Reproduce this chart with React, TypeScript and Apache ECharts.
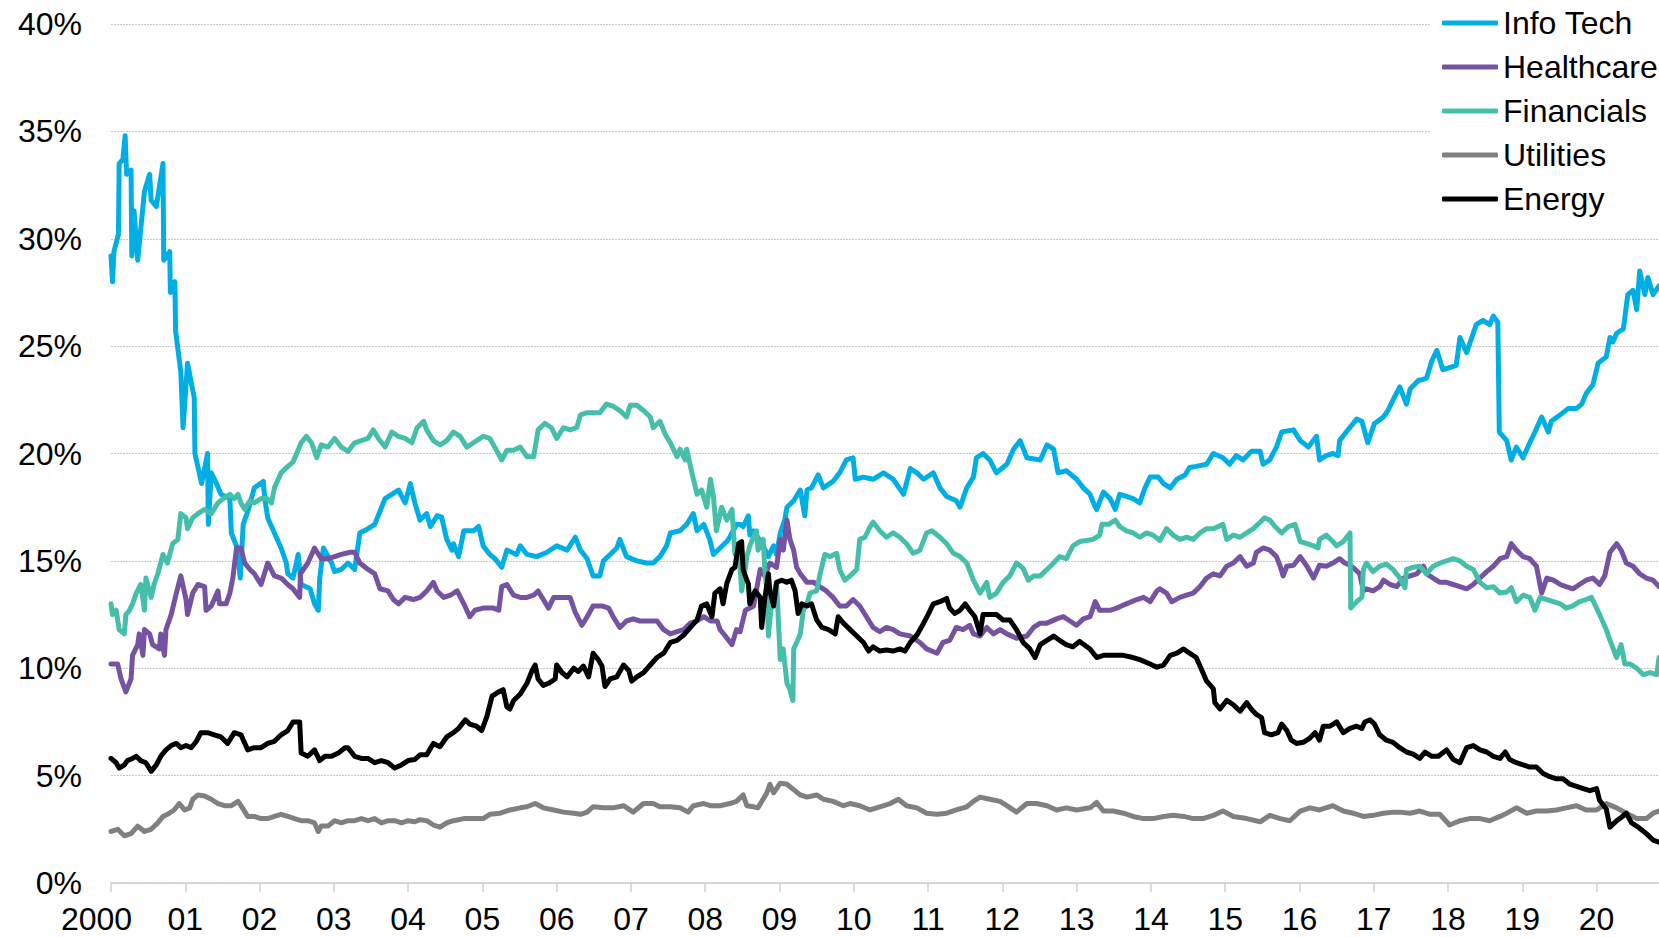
import React, { useEffect, useRef } from "react";
import * as echarts from "echarts";

// t = years since 2000-01-01, value in %
const infoTech: [number, number][] = [
  [0.00,29.2],[0.02,28.0],[0.04,29.4],[0.10,30.2],[0.11,33.5],[0.16,33.7],[0.19,34.8],[0.21,33.0],[0.27,33.2],[0.28,29.2],[0.31,31.3],[0.36,29.0],[0.45,32.2],[0.52,33.0],[0.54,31.8],[0.61,31.5],[0.70,33.5],[0.71,29.0],[0.79,29.4],[0.80,27.5],[0.86,28.0],[0.87,25.7],[0.94,23.8],[0.97,21.2],[1.03,24.2],[1.12,22.6],[1.13,20.0],[1.22,18.6],[1.30,20.0],[1.31,16.7],[1.35,19.1],[1.42,18.6],[1.48,18.1],[1.60,17.9],[1.62,16.3],[1.70,15.6],[1.74,14.2],[1.78,16.7],[1.85,17.4],[1.93,18.4],[2.05,18.7],[2.07,17.9],[2.11,17.0],[2.20,16.3],[2.29,15.6],[2.36,14.9],[2.38,14.4],[2.45,14.2],[2.52,15.3],[2.56,13.9],[2.68,13.7],[2.74,13.0],[2.79,12.7],[2.81,14.2],[2.86,15.6],[2.97,14.9],[3.01,14.5],[3.10,14.6],[3.19,14.9],[3.28,14.6],[3.35,16.3],[3.46,16.5],[3.55,16.7],[3.62,17.3],[3.69,17.9],[3.78,18.1],[3.87,18.3],[3.96,17.7],[4.03,18.6],[4.09,17.7],[4.16,16.9],[4.25,17.2],[4.30,16.6],[4.39,17.1],[4.45,17.05],[4.52,16.0],[4.59,15.5],[4.61,15.8],[4.68,15.2],[4.75,16.4],[4.88,16.4],[4.95,16.6],[5.01,15.7],[5.10,15.3],[5.17,15.1],[5.26,14.7],[5.33,15.5],[5.46,15.3],[5.51,15.7],[5.60,15.3],[5.73,15.2],[5.87,15.4],[6.00,15.7],[6.14,15.5],[6.25,16.1],[6.32,15.5],[6.41,15.1],[6.49,14.3],[6.58,14.3],[6.63,15.0],[6.72,15.3],[6.81,15.6],[6.85,16.0],[6.94,15.2],[7.08,15.0],[7.21,14.9],[7.30,14.9],[7.39,15.2],[7.48,15.7],[7.53,16.3],[7.66,16.4],[7.75,16.7],[7.84,17.2],[7.89,16.4],[7.98,16.7],[8.06,16.0],[8.11,15.3],[8.20,15.6],[8.29,15.9],[8.33,16.1],[8.42,16.7],[8.47,16.7],[8.51,16.6],[8.58,17.1],[8.60,16.2],[8.65,16.4],[8.78,15.7],[8.85,15.2],[8.92,15.7],[8.96,15.3],[9.01,16.3],[9.07,16.9],[9.10,17.5],[9.19,17.8],[9.28,18.3],[9.34,17.1],[9.37,18.3],[9.43,18.4],[9.52,19.0],[9.59,18.4],[9.72,18.7],[9.81,19.1],[9.90,19.7],[9.99,19.8],[10.02,18.8],[10.13,18.9],[10.26,18.8],[10.40,19.1],[10.53,18.8],[10.67,18.1],[10.76,19.3],[10.85,19.1],[10.94,18.8],[11.07,19.1],[11.16,18.4],[11.25,18.0],[11.38,17.8],[11.43,17.5],[11.52,18.4],[11.61,18.9],[11.65,19.8],[11.74,20.0],[11.83,19.7],[11.92,19.1],[12.06,19.5],[12.15,20.2],[12.24,20.6],[12.33,19.8],[12.51,19.7],[12.60,20.4],[12.69,20.2],[12.75,19.1],[12.86,19.2],[13.00,18.8],[13.09,18.4],[13.18,18.1],[13.25,17.5],[13.27,17.4],[13.36,18.2],[13.45,17.9],[13.52,17.4],[13.58,18.1],[13.67,18.0],[13.76,17.9],[13.85,17.7],[13.92,18.4],[13.99,18.9],[14.10,18.9],[14.17,18.6],[14.26,18.4],[14.35,18.8],[14.46,19.0],[14.52,19.35],[14.61,19.4],[14.75,19.5],[14.84,20.0],[14.97,19.8],[15.06,19.5],[15.15,19.9],[15.24,19.7],[15.35,20.1],[15.47,20.1],[15.51,19.5],[15.60,19.7],[15.69,20.3],[15.76,21.0],[15.92,21.1],[16.01,20.6],[16.12,20.3],[16.23,20.8],[16.27,19.7],[16.36,19.9],[16.45,20.0],[16.52,19.9],[16.54,20.6],[16.63,21.0],[16.77,21.6],[16.84,21.5],[16.92,20.5],[17.01,21.4],[17.13,21.7],[17.19,22.0],[17.26,22.5],[17.35,23.1],[17.44,22.3],[17.49,23.0],[17.60,23.4],[17.71,23.5],[17.78,24.3],[17.85,24.8],[17.93,23.9],[18.02,24.0],[18.11,24.1],[18.16,25.4],[18.25,24.7],[18.29,25.1],[18.38,26.0],[18.47,26.2],[18.56,26.0],[18.61,26.4],[18.67,26.1],[18.69,21.0],[18.79,20.6],[18.85,19.7],[18.92,20.3],[19.01,19.8],[19.10,20.5],[19.17,21.0],[19.26,21.7],[19.35,21.0],[19.39,21.5],[19.51,21.8],[19.62,22.1],[19.73,22.1],[19.80,22.3],[19.86,22.8],[19.95,23.2],[20.02,24.2],[20.13,24.5],[20.18,25.4],[20.22,25.2],[20.27,25.6],[20.36,25.8],[20.42,27.4],[20.49,27.6],[20.54,26.7],[20.58,28.5],[20.65,27.4],[20.69,28.2],[20.76,27.4],[20.84,27.8]
];

const healthcare: [number, number][] = [
  [0.00,10.2],[0.09,10.2],[0.135,9.5],[0.20,8.9],[0.27,9.5],[0.29,10.6],[0.36,11.1],[0.38,11.6],[0.43,10.6],[0.45,11.8],[0.52,11.6],[0.56,11.1],[0.65,10.9],[0.67,11.6],[0.72,10.6],[0.74,11.8],[0.81,12.5],[0.88,13.5],[0.94,14.3],[1.01,13.2],[1.03,12.5],[1.10,13.5],[1.17,13.9],[1.26,13.8],[1.28,12.7],[1.35,12.9],[1.44,13.6],[1.46,13.0],[1.55,13.0],[1.60,13.5],[1.64,14.2],[1.69,15.6],[1.75,15.6],[1.80,14.9],[1.87,14.6],[1.93,14.4],[2.02,13.9],[2.11,14.9],[2.20,14.3],[2.29,14.2],[2.38,13.9],[2.45,13.7],[2.54,13.3],[2.55,14.4],[2.65,14.9],[2.74,15.6],[2.83,15.1],[2.92,15.1],[3.01,15.2],[3.10,15.3],[3.22,15.4],[3.28,15.4],[3.35,14.9],[3.46,14.6],[3.55,14.4],[3.62,13.7],[3.73,13.6],[3.80,13.2],[3.87,13.0],[3.96,13.3],[4.07,13.2],[4.16,13.3],[4.25,13.6],[4.34,14.0],[4.39,13.6],[4.48,13.3],[4.57,13.4],[4.66,13.6],[4.75,13.0],[4.83,12.4],[4.90,12.7],[5.01,12.8],[5.15,12.8],[5.22,12.7],[5.26,13.8],[5.33,13.9],[5.42,13.4],[5.51,13.3],[5.60,13.3],[5.69,13.4],[5.75,13.6],[5.82,13.2],[5.89,12.8],[5.96,13.3],[6.05,13.3],[6.18,13.3],[6.25,12.6],[6.34,12.0],[6.41,12.4],[6.49,12.9],[6.61,12.9],[6.70,12.8],[6.76,12.4],[6.85,11.9],[6.94,12.2],[7.03,12.3],[7.12,12.2],[7.26,12.2],[7.35,12.2],[7.44,11.8],[7.53,11.6],[7.62,11.7],[7.71,11.8],[7.80,12.1],[7.89,12.2],[7.98,12.4],[8.07,12.2],[8.16,12.2],[8.20,11.8],[8.27,11.5],[8.36,11.1],[8.42,11.8],[8.47,11.7],[8.54,12.7],[8.60,12.8],[8.65,12.9],[8.74,14.6],[8.80,14.3],[8.87,14.9],[8.96,14.7],[9.01,16.0],[9.05,15.5],[9.10,16.9],[9.14,16.0],[9.19,15.5],[9.23,14.7],[9.28,14.4],[9.37,14.0],[9.46,14.0],[9.54,13.8],[9.63,13.6],[9.72,13.3],[9.81,12.9],[9.90,12.9],[9.99,13.2],[10.08,12.9],[10.17,12.4],[10.26,11.9],[10.35,11.7],[10.44,11.9],[10.53,11.8],[10.62,11.6],[10.76,11.5],[10.89,11.2],[10.98,10.9],[11.12,10.7],[11.20,11.2],[11.29,11.3],[11.38,11.9],[11.47,11.8],[11.56,12.0],[11.61,11.6],[11.70,11.5],[11.79,11.9],[11.88,11.6],[11.97,11.8],[12.06,11.6],[12.19,11.4],[12.33,11.5],[12.42,11.9],[12.51,12.1],[12.60,12.1],[12.73,12.3],[12.82,12.4],[12.91,12.2],[13.00,12.0],[13.09,12.3],[13.18,12.4],[13.25,13.1],[13.31,12.7],[13.45,12.7],[13.54,12.8],[13.67,13.0],[13.81,13.2],[13.90,13.3],[13.99,13.1],[14.08,13.6],[14.12,13.7],[14.21,13.5],[14.28,13.1],[14.39,13.3],[14.48,13.4],[14.57,13.5],[14.66,13.8],[14.75,14.2],[14.84,14.4],[14.93,14.3],[15.02,14.75],[15.11,14.9],[15.20,15.2],[15.29,14.75],[15.38,14.9],[15.42,15.4],[15.51,15.6],[15.60,15.5],[15.69,15.2],[15.74,14.75],[15.78,14.3],[15.83,14.75],[15.92,14.8],[16.01,15.2],[16.10,14.75],[16.19,14.2],[16.27,14.8],[16.36,14.75],[16.45,14.9],[16.54,15.1],[16.61,14.9],[16.68,14.8],[16.75,14.6],[16.81,14.4],[16.86,13.6],[16.90,13.7],[16.99,13.6],[17.08,13.8],[17.13,14.1],[17.22,13.9],[17.31,13.8],[17.40,14.2],[17.49,14.3],[17.58,14.4],[17.67,14.75],[17.71,14.4],[17.80,14.2],[17.89,14.0],[17.98,14.0],[18.07,13.9],[18.16,13.8],[18.25,13.7],[18.34,13.9],[18.43,14.2],[18.52,14.5],[18.61,14.75],[18.70,15.1],[18.79,15.2],[18.85,15.8],[18.92,15.5],[19.01,15.2],[19.10,15.1],[19.19,14.75],[19.26,13.5],[19.33,14.2],[19.42,14.1],[19.51,13.9],[19.59,13.8],[19.68,13.7],[19.77,13.9],[19.86,14.1],[19.95,14.2],[20.04,13.9],[20.11,14.3],[20.18,15.4],[20.27,15.8],[20.33,15.5],[20.40,14.9],[20.49,14.75],[20.58,14.4],[20.67,14.2],[20.76,14.1],[20.84,13.8]
];

const financials: [number, number][] = [
  [0.00,13.0],[0.02,12.5],[0.07,12.7],[0.11,11.8],[0.18,11.6],[0.20,12.5],[0.25,12.7],[0.29,13.0],[0.34,13.5],[0.40,13.9],[0.45,12.7],[0.47,14.2],[0.54,13.3],[0.58,13.9],[0.63,14.4],[0.70,15.3],[0.76,14.9],[0.83,15.8],[0.90,16.0],[0.94,17.2],[1.01,17.0],[1.03,16.5],[1.10,17.0],[1.17,17.2],[1.26,17.4],[1.35,17.2],[1.44,17.7],[1.51,17.9],[1.60,18.1],[1.66,17.9],[1.71,18.1],[1.75,17.7],[1.80,17.4],[1.87,17.8],[1.93,17.7],[2.02,17.9],[2.10,17.9],[2.16,17.7],[2.20,18.4],[2.29,19.1],[2.38,19.4],[2.45,19.6],[2.50,20.0],[2.56,20.5],[2.63,20.8],[2.70,20.5],[2.77,19.8],[2.83,20.4],[2.92,20.3],[3.01,20.7],[3.10,20.3],[3.19,20.1],[3.28,20.5],[3.37,20.6],[3.46,20.7],[3.53,21.1],[3.60,20.7],[3.69,20.3],[3.78,21.0],[3.87,20.8],[3.96,20.7],[4.05,20.5],[4.12,21.2],[4.21,21.5],[4.25,21.1],[4.34,20.6],[4.43,20.4],[4.52,20.6],[4.61,21.0],[4.70,20.8],[4.79,20.3],[4.88,20.5],[5.01,20.8],[5.10,20.7],[5.19,20.15],[5.26,19.7],[5.33,20.15],[5.42,20.15],[5.51,20.3],[5.60,19.85],[5.69,19.85],[5.75,21.1],[5.84,21.4],[5.93,21.2],[6.00,20.7],[6.09,21.2],[6.18,21.1],[6.27,21.2],[6.32,21.8],[6.41,21.9],[6.49,21.9],[6.58,21.9],[6.67,22.3],[6.76,22.2],[6.85,22.0],[6.94,21.7],[6.99,22.25],[7.08,22.25],[7.17,22.0],[7.26,21.7],[7.30,21.2],[7.39,21.5],[7.46,20.9],[7.53,20.5],[7.62,19.85],[7.66,20.2],[7.73,19.7],[7.75,20.2],[7.82,19.1],[7.89,18.1],[7.95,18.3],[8.02,17.5],[8.07,18.8],[8.11,18.0],[8.15,16.4],[8.22,17.5],[8.29,16.9],[8.36,17.4],[8.40,15.3],[8.45,15.8],[8.49,13.6],[8.54,14.7],[8.56,15.2],[8.60,15.7],[8.65,16.1],[8.69,16.4],[8.71,15.5],[8.78,16.0],[8.80,14.7],[8.83,13.6],[8.85,11.5],[8.89,13.0],[8.96,14.0],[9.01,10.4],[9.05,10.9],[9.10,9.3],[9.14,9.0],[9.18,8.5],[9.19,10.9],[9.23,11.2],[9.28,11.6],[9.32,12.7],[9.37,13.0],[9.41,13.5],[9.50,13.6],[9.54,14.3],[9.61,15.3],[9.68,15.2],[9.77,15.35],[9.81,14.6],[9.88,14.1],[9.95,14.3],[10.04,14.6],[10.08,16.0],[10.15,16.1],[10.22,16.6],[10.26,16.8],[10.35,16.4],[10.44,16.1],[10.53,16.3],[10.62,16.1],[10.71,15.8],[10.80,15.35],[10.89,15.5],[10.98,16.3],[11.05,16.4],[11.16,16.1],[11.25,15.8],[11.34,15.35],[11.43,15.2],[11.52,14.9],[11.61,14.1],[11.70,13.5],[11.79,14.0],[11.83,13.3],[11.92,13.5],[12.01,14.0],[12.10,14.3],[12.19,14.9],[12.28,14.65],[12.35,14.1],[12.42,14.3],[12.51,14.3],[12.60,14.6],[12.69,14.9],[12.77,15.2],[12.86,15.1],[12.95,15.7],[13.04,15.9],[13.13,15.95],[13.22,16.0],[13.31,16.2],[13.34,16.7],[13.43,16.7],[13.52,16.9],[13.58,16.6],[13.67,16.4],[13.76,16.3],[13.85,16.1],[13.94,16.3],[14.03,16.2],[14.12,15.95],[14.21,16.5],[14.30,16.2],[14.39,16.0],[14.48,16.1],[14.57,16.0],[14.66,16.3],[14.75,16.5],[14.84,16.5],[14.97,16.7],[15.02,16.0],[15.11,16.2],[15.20,16.1],[15.29,16.3],[15.38,16.5],[15.47,16.8],[15.53,17.0],[15.60,16.9],[15.67,16.6],[15.76,16.3],[15.85,16.6],[15.94,16.7],[16.01,15.9],[16.10,15.8],[16.19,15.7],[16.25,15.6],[16.27,16.0],[16.36,16.2],[16.45,15.9],[16.50,15.7],[16.59,15.9],[16.68,16.3],[16.69,12.8],[16.77,13.1],[16.84,13.3],[16.86,14.6],[16.90,14.9],[16.99,14.5],[17.08,14.75],[17.17,14.85],[17.26,14.6],[17.35,14.2],[17.42,13.75],[17.44,14.6],[17.53,14.7],[17.62,14.75],[17.71,14.4],[17.80,14.75],[17.89,14.9],[17.98,15.0],[18.07,15.1],[18.16,15.0],[18.25,14.75],[18.34,14.6],[18.43,14.0],[18.52,13.75],[18.61,13.8],[18.70,13.5],[18.79,13.55],[18.85,13.75],[18.92,13.1],[19.01,13.4],[19.10,13.3],[19.17,12.7],[19.24,13.3],[19.33,13.2],[19.42,13.1],[19.51,13.0],[19.59,12.8],[19.68,12.9],[19.77,13.1],[19.86,13.2],[19.93,13.3],[20.00,12.8],[20.04,12.5],[20.13,11.8],[20.18,11.3],[20.27,10.5],[20.33,11.1],[20.38,10.2],[20.45,10.2],[20.54,10.0],[20.63,9.7],[20.72,9.8],[20.81,9.7],[20.84,10.5]
];

const utilities: [number, number][] = [
  [0.00,2.4],[0.09,2.5],[0.18,2.2],[0.27,2.3],[0.36,2.65],[0.45,2.4],[0.54,2.5],[0.63,2.8],[0.70,3.1],[0.76,3.2],[0.85,3.4],[0.92,3.7],[0.99,3.4],[1.06,3.5],[1.10,3.9],[1.17,4.1],[1.26,4.05],[1.35,3.9],[1.44,3.7],[1.53,3.6],[1.62,3.6],[1.71,3.8],[1.75,3.6],[1.84,3.1],[1.93,3.1],[2.02,3.0],[2.11,3.0],[2.20,3.1],[2.29,3.2],[2.38,3.1],[2.47,3.0],[2.56,2.9],[2.65,2.9],[2.74,2.8],[2.79,2.4],[2.83,2.65],[2.92,2.65],[3.01,2.9],[3.10,2.8],[3.19,2.9],[3.28,2.9],[3.37,3.0],[3.46,2.9],[3.55,3.0],[3.64,2.8],[3.73,2.9],[3.82,2.9],[3.91,2.8],[4.00,2.9],[4.09,2.85],[4.16,2.95],[4.25,2.9],[4.34,2.7],[4.43,2.6],[4.52,2.8],[4.61,2.9],[4.75,3.0],[4.88,3.0],[5.01,3.0],[5.10,3.2],[5.24,3.25],[5.37,3.4],[5.51,3.5],[5.60,3.55],[5.71,3.7],[5.82,3.5],[5.96,3.4],[6.09,3.3],[6.23,3.25],[6.32,3.2],[6.41,3.3],[6.49,3.55],[6.63,3.5],[6.76,3.5],[6.90,3.6],[7.03,3.3],[7.17,3.7],[7.30,3.7],[7.39,3.55],[7.53,3.55],[7.66,3.5],[7.77,3.3],[7.84,3.6],[7.98,3.7],[8.07,3.6],[8.20,3.6],[8.33,3.7],[8.42,3.8],[8.51,4.1],[8.56,3.6],[8.65,3.55],[8.71,3.5],[8.76,3.8],[8.83,4.2],[8.87,4.6],[8.92,4.2],[9.01,4.65],[9.10,4.6],[9.19,4.35],[9.28,4.1],[9.37,4.0],[9.50,4.1],[9.59,3.9],[9.72,3.8],[9.86,3.6],[9.95,3.7],[10.08,3.6],[10.22,3.4],[10.35,3.55],[10.49,3.7],[10.60,3.9],[10.71,3.6],[10.85,3.5],[10.98,3.25],[11.12,3.2],[11.25,3.25],[11.38,3.4],[11.52,3.55],[11.61,3.8],[11.70,4.0],[11.83,3.9],[11.97,3.8],[12.06,3.6],[12.19,3.3],[12.33,3.7],[12.46,3.7],[12.60,3.6],[12.73,3.4],[12.86,3.5],[13.00,3.4],[13.18,3.5],[13.27,3.75],[13.36,3.35],[13.49,3.35],[13.63,3.25],[13.76,3.1],[13.90,3.0],[14.03,3.0],[14.17,3.1],[14.30,3.15],[14.44,3.1],[14.57,3.0],[14.70,3.0],[14.84,3.15],[14.97,3.35],[15.11,3.1],[15.29,3.0],[15.47,2.85],[15.60,3.15],[15.74,3.0],[15.87,2.9],[16.01,3.35],[16.14,3.5],[16.27,3.4],[16.45,3.6],[16.59,3.35],[16.72,3.25],[16.86,3.1],[16.99,3.15],[17.13,3.25],[17.26,3.3],[17.35,3.3],[17.49,3.25],[17.62,3.35],[17.76,3.2],[17.89,3.2],[18.02,2.7],[18.16,2.9],[18.29,3.0],[18.43,3.0],[18.56,2.9],[18.70,3.1],[18.79,3.25],[18.92,3.5],[19.06,3.25],[19.19,3.35],[19.33,3.35],[19.46,3.4],[19.59,3.5],[19.73,3.6],[19.86,3.4],[20.00,3.4],[20.13,3.7],[20.27,3.5],[20.40,3.25],[20.54,3.0],[20.67,3.0],[20.76,3.25],[20.84,3.35]
];

const energy: [number, number][] = [
  [0.00,5.8],[0.07,5.6],[0.11,5.35],[0.18,5.5],[0.22,5.7],[0.29,5.8],[0.34,5.9],[0.40,5.7],[0.47,5.6],[0.54,5.2],[0.61,5.5],[0.67,5.9],[0.74,6.2],[0.81,6.4],[0.88,6.5],[0.94,6.3],[1.01,6.4],[1.08,6.3],[1.15,6.6],[1.21,7.0],[1.30,7.0],[1.39,6.9],[1.48,6.8],[1.57,6.5],[1.66,7.0],[1.75,6.9],[1.84,6.2],[1.93,6.3],[2.02,6.3],[2.11,6.5],[2.20,6.6],[2.29,6.9],[2.38,7.1],[2.45,7.5],[2.54,7.5],[2.56,6.05],[2.65,5.9],[2.74,6.2],[2.81,5.7],[2.88,5.9],[2.97,5.9],[3.06,6.05],[3.15,6.3],[3.19,6.3],[3.28,5.9],[3.37,5.8],[3.46,5.8],[3.55,5.6],[3.64,5.7],[3.73,5.6],[3.82,5.35],[3.91,5.5],[4.00,5.7],[4.09,5.75],[4.16,5.97],[4.25,5.97],[4.34,6.5],[4.43,6.35],[4.52,6.8],[4.61,7.0],[4.68,7.2],[4.77,7.6],[4.83,7.4],[4.92,7.3],[4.99,7.1],[5.06,7.75],[5.13,8.7],[5.22,8.9],[5.28,9.0],[5.33,8.2],[5.37,8.1],[5.42,8.5],[5.51,8.8],[5.60,9.3],[5.67,9.9],[5.71,10.15],[5.75,9.5],[5.82,9.2],[5.89,9.3],[5.98,9.5],[6.00,10.15],[6.07,9.8],[6.14,9.6],[6.23,10.0],[6.29,9.85],[6.36,10.1],[6.43,9.6],[6.49,10.7],[6.56,10.4],[6.61,10.1],[6.65,9.15],[6.72,9.5],[6.81,9.6],[6.90,10.15],[6.97,9.9],[7.01,9.4],[7.08,9.6],[7.17,9.8],[7.26,10.15],[7.35,10.5],[7.44,10.7],[7.53,11.2],[7.62,11.3],[7.71,11.55],[7.80,11.9],[7.89,12.25],[7.95,12.9],[8.02,13.0],[8.09,12.4],[8.13,13.5],[8.20,13.7],[8.24,13.0],[8.29,13.95],[8.36,14.6],[8.40,14.7],[8.45,15.8],[8.49,15.9],[8.51,14.6],[8.56,14.1],[8.58,13.95],[8.60,13.0],[8.67,13.6],[8.74,13.3],[8.76,11.9],[8.80,13.2],[8.85,14.4],[8.87,13.6],[8.92,12.9],[8.96,14.0],[9.03,14.1],[9.10,14.0],[9.16,14.1],[9.21,13.6],[9.25,12.55],[9.30,13.0],[9.37,12.9],[9.43,13.0],[9.50,12.25],[9.57,11.9],[9.66,11.8],[9.75,11.6],[9.79,12.4],[9.86,12.1],[9.95,11.8],[10.04,11.5],[10.13,11.2],[10.20,10.8],[10.26,11.0],[10.35,10.8],[10.44,10.85],[10.53,10.8],[10.62,10.9],[10.69,10.8],[10.76,11.2],[10.85,11.55],[10.94,12.1],[11.00,12.5],[11.07,13.0],[11.16,13.1],[11.25,13.25],[11.29,12.8],[11.36,12.55],[11.43,12.7],[11.50,13.0],[11.56,12.7],[11.63,12.4],[11.70,11.6],[11.74,12.5],[11.83,12.5],[11.92,12.5],[12.01,12.25],[12.10,12.25],[12.19,11.8],[12.28,11.2],[12.37,10.9],[12.44,10.5],[12.51,11.1],[12.60,11.3],[12.69,11.5],[12.77,11.3],[12.86,11.1],[12.95,11.0],[13.04,11.25],[13.18,10.9],[13.27,10.5],[13.36,10.6],[13.49,10.6],[13.63,10.6],[13.76,10.5],[13.85,10.4],[13.99,10.2],[14.08,10.05],[14.17,10.15],[14.26,10.6],[14.35,10.7],[14.44,10.9],[14.52,10.7],[14.61,10.5],[14.68,9.95],[14.75,9.4],[14.84,9.05],[14.86,8.4],[14.93,8.1],[15.02,8.5],[15.11,8.3],[15.20,8.0],[15.29,8.4],[15.35,8.1],[15.42,7.85],[15.49,7.7],[15.53,7.0],[15.62,6.9],[15.71,7.0],[15.76,7.4],[15.83,7.1],[15.89,6.65],[15.96,6.5],[16.05,6.55],[16.14,6.75],[16.21,7.0],[16.27,6.65],[16.32,7.3],[16.41,7.3],[16.50,7.5],[16.59,7.0],[16.68,7.2],[16.77,7.3],[16.84,7.2],[16.88,7.5],[16.95,7.6],[17.01,7.4],[17.08,6.9],[17.17,6.65],[17.26,6.55],[17.35,6.3],[17.44,6.1],[17.53,6.0],[17.62,5.8],[17.69,6.1],[17.78,5.9],[17.87,5.9],[17.98,6.2],[18.07,5.75],[18.16,5.6],[18.25,6.3],[18.34,6.4],[18.43,6.2],[18.52,6.1],[18.61,5.9],[18.70,5.8],[18.77,6.1],[18.83,5.75],[18.92,5.6],[19.01,5.5],[19.10,5.4],[19.19,5.4],[19.28,5.1],[19.37,4.95],[19.46,4.85],[19.55,4.85],[19.64,4.6],[19.73,4.5],[19.82,4.4],[19.91,4.3],[20.00,4.4],[20.04,3.85],[20.13,3.45],[20.18,2.6],[20.27,2.9],[20.33,3.05],[20.40,3.25],[20.47,2.8],[20.56,2.6],[20.67,2.3],[20.76,2.0],[20.84,1.9]
];

const seriesNames = ["Info Tech", "Healthcare", "Financials", "Utilities", "Energy"];
const seriesColors = ["#00AEE6", "#7652A2", "#46BFAA", "#808080", "#000000"];
const seriesData = [infoTech, healthcare, financials, utilities, energy];
const yTicks = [0, 5, 10, 15, 20, 25, 30, 35, 40];
const xStartYear = 2000;
const xEnd = 20.84;

const FONT = "'Liberation Sans', Arial, Helvetica, sans-serif";

export default function App() {
  const ref = useRef<HTMLDivElement>(null);
  useEffect(() => {
    if (!ref.current) return;
    const chart = echarts.init(ref.current, undefined, { renderer: "svg" });
    chart.setOption({
      animation: false,
      backgroundColor: "#ffffff",
      textStyle: { fontFamily: FONT },
      grid: { left: 111, right: 0, top: 24, bottom: 54, containLabel: false },
      legend: {
        orient: "vertical",
        left: 1430,
        top: 0,
        padding: [7, 0, 7, 12],
        backgroundColor: "#ffffff",
        itemWidth: 56,
        itemHeight: 5,
        itemGap: 12,
        icon: "roundRect",
        data: seriesNames,
        textStyle: { fontSize: 32, color: "#000", fontFamily: FONT },
      },
      xAxis: {
        type: "value",
        min: 0,
        max: xEnd,
        interval: 1,
        axisLine: { show: true, lineStyle: { color: "#cfcfcf", width: 1.5 } },
        axisTick: { show: true, length: 9, lineStyle: { color: "#cfcfcf", width: 1.5 } },
        splitLine: { show: false },
        axisLabel: {
          showMaxLabel: false,
          margin: 20,
          fontSize: 32,
          lineHeight: 32,
          color: "#000",
          fontFamily: FONT,
          formatter: (v: number) => {
            if (Math.abs(v) < 1e-6) return "{first|" + xStartYear + "}";
            const yy = Math.round(v) % 100;
            return yy < 10 ? "0" + yy : String(yy);
          },
          rich: {
            first: { fontSize: 32, lineHeight: 32, color: "#000", fontFamily: FONT, padding: [0, 29, 0, 0] },
          },
        },
      },
      yAxis: {
        type: "value",
        min: yTicks[0],
        max: yTicks[yTicks.length - 1],
        interval: 5,
        axisLine: { show: false },
        axisTick: { show: false },
        splitLine: { show: true, lineStyle: { color: "#c8c8c8", width: 1, type: [2, 1] } },
        axisLabel: {
          margin: 29,
          fontSize: 32,
          color: "#000",
          fontFamily: FONT,
          formatter: "{value}%",
        },
      },
      series: seriesNames.map((name, i) => ({
        name,
        type: "line",
        data: seriesData[i],
        showSymbol: false,
        symbol: "none",
        clip: true,
        color: seriesColors[i],
        lineStyle: { width: 5, color: seriesColors[i], cap: "round", join: "round" },
        emphasis: { disabled: true },
      })),
    });
    return () => chart.dispose();
  }, []);
  return (
    <div
      ref={ref}
      style={{ position: "fixed", left: 0, top: 0, width: 1659, height: 937, background: "#fff" }}
    />
  );
}
